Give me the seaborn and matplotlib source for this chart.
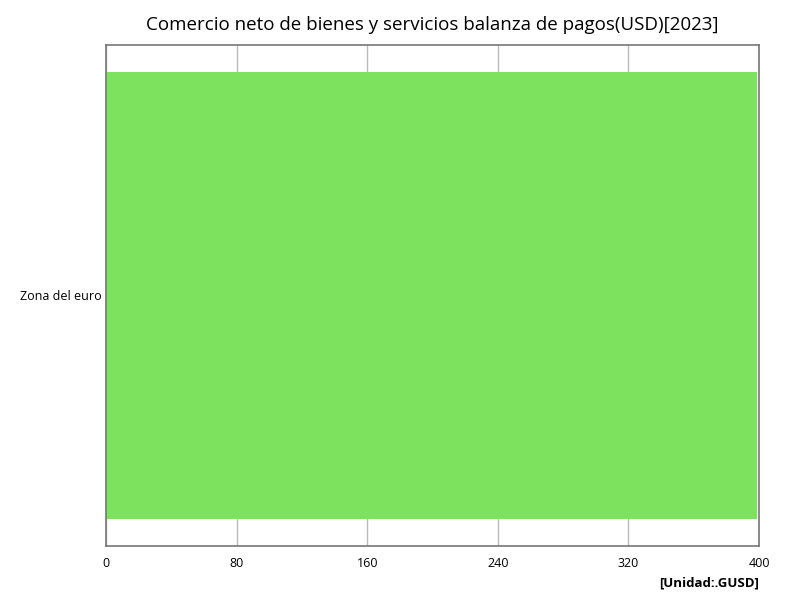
import pandas as pd
import seaborn as sns
import matplotlib.pyplot as plt

# Data
regions = ["Zona del euro"]
values = [399.0]
x_ticks = [0, 80, 160, 240, 320, 400]

df = pd.DataFrame({"region": regions, "value": values})

sns.set_theme(style="white")
plt.rcParams["font.family"] = ["Open Sans", "DejaVu Sans"]
plt.rcParams["text.color"] = "black"
plt.rcParams["xtick.color"] = "black"
plt.rcParams["ytick.color"] = "black"

fig = plt.figure(figsize=(8, 6), dpi=100)
ax = fig.add_axes([106 / 800, 1 - 546 / 600, (759 - 106) / 800, (546 - 45) / 600])

sns.barplot(data=df, x="value", y="region", color="#7de35f", saturation=1,
            width=0.894, ax=ax, edgecolor="none")

ax.set_xlim(0, 400)
ax.set_ylim(0.5, -0.5)
ax.set_xticks(x_ticks)
ax.set_xticklabels([str(t) for t in x_ticks], fontsize=9)
ax.tick_params(axis="y", labelsize=9, length=0, pad=3)
ax.tick_params(axis="x", length=0, pad=8)
ax.grid(axis="x", color="#bbbbbb", linewidth=1)
ax.set_axisbelow(True)
for s in ax.spines.values():
    s.set_color("#777777")
    s.set_linewidth(1.2)

ax.set_xlabel("")
ax.set_ylabel("")
fig.text((106 + 759) / 2 / 800, 1 - 25 / 600,
         "Comercio neto de bienes y servicios balanza de pagos(USD)[2023]",
         ha="center", va="center", fontsize=13.5)
fig.text(759 / 800, 1 - 583 / 600, "[Unidad:.GUSD]", ha="right", va="center",
         fontsize=9.5, fontweight="bold")

plt.savefig("out.png", dpi=100)
